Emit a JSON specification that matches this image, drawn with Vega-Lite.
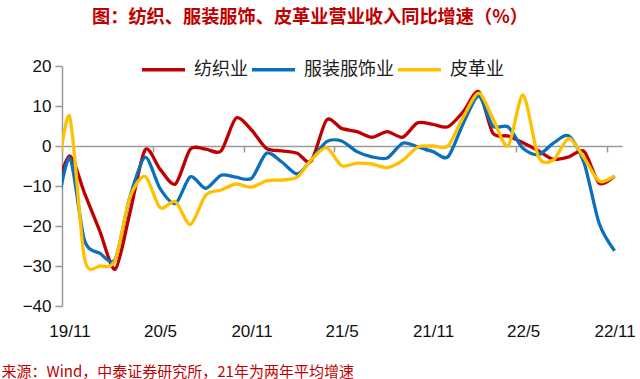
{
  "$schema": "https://vega.github.io/schema/vega-lite/v6.json",
  "width": 560,
  "height": 240,
  "autosize": {"type": "none"},
  "padding": {"left": 62, "top": 66, "right": 18, "bottom": 73},
  "background": "white",
  "config": {"view": {"stroke": null}},
  "title": {
    "text": "图：纺织、服装服饰、皮革业营业收入同比增速（%）",
    "anchor": "start",
    "frame": "group",
    "dx": 30,
    "offset": 19,
    "font": "Noto Sans CJK SC",
    "fontSize": 18.2,
    "fontWeight": "bold",
    "color": "#C00000"
  },
  "data": {
    "values": [
      {"date": "2019-10-16", "纺织业": -13, "服装服饰业": -20, "皮革业": -14},
      {"date": "2019-11-16", "纺织业": -2.5, "服装服饰业": -3, "皮革业": 7.5},
      {"date": "2019-12-16", "纺织业": -11.7, "服装服饰业": -23.5, "皮革业": -28},
      {"date": "2020-01-16", "纺织业": -21.3, "服装服饰业": -26.8, "皮革业": -30},
      {"date": "2020-02-16", "纺织业": -30.8, "服装服饰业": -28.3, "皮革业": -28.5},
      {"date": "2020-03-16", "纺织业": -17, "服装服饰业": -13, "皮革业": -13},
      {"date": "2020-04-16", "纺织业": -1, "服装服饰业": -2.8, "皮革业": -7.6},
      {"date": "2020-05-16", "纺织业": -5.8, "服装服饰业": -10.6, "皮革业": -15.4},
      {"date": "2020-06-16", "纺织业": -9.5, "服装服饰业": -14.4, "皮革业": -13.9},
      {"date": "2020-07-16", "纺织业": -0.8, "服装服饰业": -7.7, "皮革业": -19.6},
      {"date": "2020-08-16", "纺织业": -0.8, "服装服饰业": -10.6, "皮革业": -12.3},
      {"date": "2020-09-16", "纺织业": -1.2, "服装服饰业": -7.3, "皮革业": -11},
      {"date": "2020-10-16", "纺织业": 7, "服装服饰业": -7.8, "皮革业": -9.5},
      {"date": "2020-11-16", "纺织业": 4, "服装服饰业": -8.1, "皮革业": -10.3},
      {"date": "2020-12-16", "纺织业": -0.6, "服装服饰业": -1.8, "皮革业": -8.7},
      {"date": "2021-01-16", "纺织业": -1.2, "服装服饰业": -4, "皮革业": -8.5},
      {"date": "2021-02-16", "纺织业": -1.8, "服装服饰业": -7, "皮革业": -7.8},
      {"date": "2021-03-16", "纺织业": -3.8, "服装服饰业": -3.5, "皮革业": -3.5},
      {"date": "2021-04-16", "纺织业": 6.5, "服装服饰业": 1.1, "皮革业": -0.4},
      {"date": "2021-05-16", "纺织业": 4.4, "服装服饰业": 1.25, "皮革业": -4.9},
      {"date": "2021-06-16", "纺织业": 3.6, "服装服饰业": -1.4, "皮革业": -4.3},
      {"date": "2021-07-16", "纺织业": 2.2, "服装服饰业": -2.7, "皮革业": -4.5},
      {"date": "2021-08-16", "纺织业": 3.6, "服装服饰业": -3, "皮革业": -5.4},
      {"date": "2021-09-16", "纺织业": 2.2, "服装服饰业": 0.7, "皮革业": -3.6},
      {"date": "2021-10-16", "纺织业": 5.8, "服装服饰业": -0.2, "皮革业": -0.3},
      {"date": "2021-11-16", "纺织业": 5.4, "服装服饰业": -1.4, "皮革业": 0},
      {"date": "2021-12-16", "纺织业": 4.8, "服装服饰业": -2.7, "皮革业": 0},
      {"date": "2022-01-16", "纺织业": 8.6, "服装服饰业": 5.7, "皮革业": 7.3},
      {"date": "2022-02-16", "纺织业": 13.6, "服装服饰业": 12.5, "皮革业": 13.2},
      {"date": "2022-03-16", "纺织业": 3.3, "服装服饰业": 5, "皮革业": 7},
      {"date": "2022-04-16", "纺织业": 2.5, "服装服饰业": 4.8, "皮革业": 0},
      {"date": "2022-05-16", "纺织业": 0.8, "服装服饰业": -0.6, "皮革业": 12.75},
      {"date": "2022-06-16", "纺织业": -1.2, "服装服饰业": -2.2, "皮革业": -2.7},
      {"date": "2022-07-16", "纺织业": -3.3, "服装服饰业": 0.7, "皮革业": -3.5},
      {"date": "2022-08-16", "纺织业": -2.7, "服装服饰业": 2.5, "皮革业": 1.9},
      {"date": "2022-09-16", "纺织业": -1.4, "服装服饰业": -4.3, "皮革业": -3},
      {"date": "2022-10-16", "纺织业": -9.3, "服装服饰业": -19.3, "皮革业": -8.8},
      {"date": "2022-11-16", "纺织业": -7.5, "服装服饰业": -26.2, "皮革业": -7.5}
    ]
  },
  "transform": [
    {"fold": ["纺织业", "服装服饰业", "皮革业"], "as": ["series", "value"]}
  ],
  "mark": {"type": "line", "interpolate": "cardinal", "tension": 0.2, "strokeWidth": 3.3, "clip": true},
  "encoding": {
    "x": {
      "field": "date",
      "type": "temporal",
      "scale": {
        "type": "utc",
        "domain": [
          {"year": 2019, "month": 11, "date": 1, "utc": true},
          {"year": 2022, "month": 12, "date": 1, "utc": true}
        ]
      },
      "axis": {
        "orient": "bottom",
        "offset": -160,
        "values": [
          {"year": 2019, "month": 11, "date": 1, "utc": true},
          {"year": 2020, "month": 5, "date": 1, "utc": true},
          {"year": 2020, "month": 11, "date": 1, "utc": true},
          {"year": 2021, "month": 5, "date": 1, "utc": true},
          {"year": 2021, "month": 11, "date": 1, "utc": true},
          {"year": 2022, "month": 5, "date": 1, "utc": true},
          {"year": 2022, "month": 11, "date": 1, "utc": true}
        ],
        "labelExpr": "utcFormat(datum.value, '%y/%-m')",
        "labelOffset": 7.5,
        "labelPadding": 171,
        "labelAngle": 0,
        "labelFlush": false,
        "labelOverlap": false,
        "labelFont": "Liberation Sans",
        "labelFontSize": 17,
        "labelColor": "#111111",
        "tickSize": 6,
        "tickWidth": 1.5,
        "tickColor": "#9a9a9a",
        "domainColor": "#9a9a9a",
        "domainWidth": 1.5,
        "grid": false,
        "zindex": 0,
        "title": "来源：Wind，中泰证券研究所，21年为两年平均增速",
        "titleX": -61,
        "titleY": 225,
        "titleAlign": "left",
        "titleAnchor": "start",
        "titleBaseline": "middle",
        "titleColor": "#C00000",
        "titleFont": "Noto Sans CJK SC",
        "titleFontSize": 15,
        "titleFontWeight": "normal"
      }
    },
    "y": {
      "field": "value",
      "type": "quantitative",
      "scale": {"domain": [-40, 20], "nice": false},
      "axis": {
        "values": [-40, -30, -20, -10, 0, 10, 20],
        "grid": false,
        "title": null,
        "tickSize": 7,
        "tickWidth": 1.5,
        "tickColor": "#9a9a9a",
        "domainColor": "#9a9a9a",
        "domainWidth": 1.5,
        "labelPadding": 4,
        "labelFont": "Liberation Sans",
        "labelFontSize": 17,
        "labelColor": "#111111"
      }
    },
    "color": {
      "field": "series",
      "type": "nominal",
      "scale": {
        "domain": ["纺织业", "服装服饰业", "皮革业"],
        "range": ["#C00000", "#0A70BE", "#FFC000"]
      },
      "legend": {
        "orient": "none",
        "legendX": 78,
        "legendY": -20,
        "direction": "horizontal",
        "columns": 3,
        "title": null,
        "symbolType": "stroke",
        "symbolSize": 1849,
        "symbolStrokeWidth": 3.5,
        "labelFont": "Noto Sans CJK SC",
        "labelFontSize": 18,
        "labelColor": "#222222",
        "labelOffset": 7,
        "columnPadding": -3,
        "padding": 0,
        "labelLimit": 200
      }
    }
  }
}
